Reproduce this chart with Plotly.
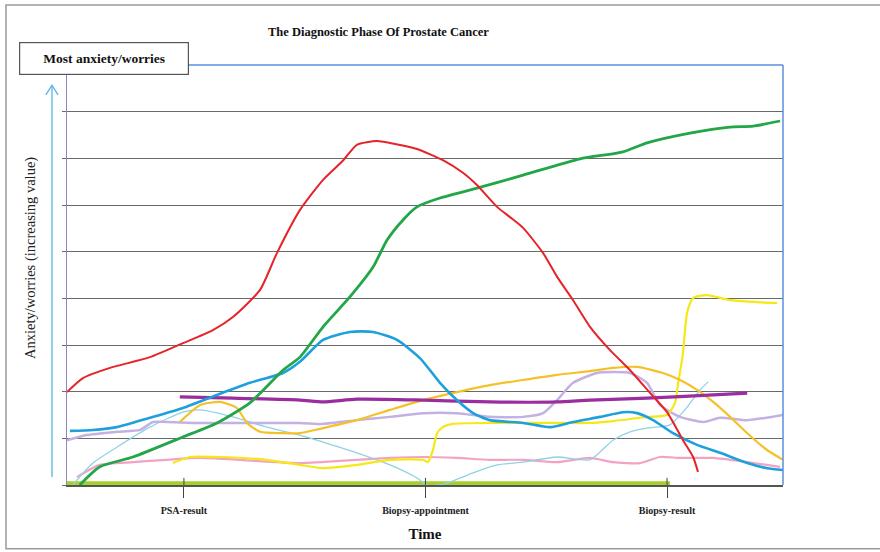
import plotly.graph_objects as go

# ---------------- data (time units: PSA-result=1, Biopsy-appointment=2, Biopsy-result=3) -------------
tick_vals = [1, 2, 3]
tick_labels = ["PSA-result", "Biopsy-appointment", "Biopsy-result"]

red_x = [0.516, 0.582, 0.694, 0.859, 0.996, 1.120, 1.203, 1.315, 1.385, 1.480, 1.576, 1.660,
         1.716, 1.799, 1.853, 1.965, 2.072, 2.155, 2.213, 2.296, 2.350, 2.404, 2.487, 2.545, 2.611,
         2.681, 2.764, 2.847, 2.930, 3.000, 3.066, 3.108, 3.128]
red_y = [1.99, 2.29, 2.51, 2.74, 3.04, 3.32, 3.60, 4.18, 4.97, 5.89, 6.54, 6.96,
         7.29, 7.37, 7.33, 7.20, 6.96, 6.69, 6.43, 5.96, 5.74, 5.51, 4.97, 4.46, 3.96,
         3.39, 2.89, 2.46, 1.97, 1.56, 0.96, 0.60, 0.28]

green_x = [0.569, 0.652, 0.789, 0.996, 1.137, 1.273, 1.410, 1.480, 1.576, 1.687, 1.783, 1.841,
           1.907, 1.965, 2.060, 2.213, 2.404, 2.640, 2.818, 2.917, 3.095, 3.261, 3.356, 3.468]
green_y = [0.00, 0.39, 0.60, 1.03, 1.33, 1.76, 2.46, 2.74, 3.39, 4.03, 4.67, 5.25,
           5.68, 5.96, 6.15, 6.36, 6.64, 6.99, 7.14, 7.33, 7.54, 7.67, 7.69, 7.80]

blue_x = [0.528, 0.623, 0.722, 0.859, 0.996, 1.137, 1.273, 1.410, 1.480, 1.576, 1.687, 1.783,
          1.882, 1.977, 2.060, 2.130, 2.197, 2.267, 2.404, 2.516, 2.611, 2.723, 2.818, 2.876,
          2.942, 3.025, 3.124, 3.220, 3.332, 3.414, 3.480]
blue_y = [1.16, 1.18, 1.24, 1.44, 1.65, 1.93, 2.19, 2.40, 2.64, 3.11, 3.28, 3.28,
          3.11, 2.72, 2.19, 1.82, 1.54, 1.39, 1.33, 1.24, 1.35, 1.46, 1.56, 1.54,
          1.39, 1.11, 0.86, 0.69, 0.47, 0.36, 0.32]

purple_x = [0.983, 1.203, 1.480, 1.576, 1.716, 1.990, 2.267, 2.545, 2.681, 2.917, 3.191, 3.332]
purple_y = [1.89, 1.86, 1.82, 1.78, 1.84, 1.82, 1.78, 1.78, 1.82, 1.86, 1.93, 1.97]

gold_x = [0.983, 1.066, 1.149, 1.219, 1.261, 1.315, 1.410, 1.480, 1.576, 1.716, 1.853, 1.990,
          2.130, 2.267, 2.404, 2.545, 2.681, 2.776, 2.876, 2.983, 3.054, 3.124, 3.191, 3.261,
          3.332, 3.414, 3.480]
gold_y = [1.35, 1.71, 1.78, 1.65, 1.33, 1.14, 1.11, 1.11, 1.22, 1.39, 1.61, 1.82,
          1.99, 2.14, 2.25, 2.36, 2.44, 2.51, 2.53, 2.40, 2.25, 2.04, 1.78, 1.46,
          1.11, 0.75, 0.54]

yellow_x = [0.954, 1.025, 1.137, 1.344, 1.480, 1.576, 1.716, 1.853, 1.990, 2.010, 2.031, 2.048,
            2.072, 2.114, 2.267, 2.545, 2.681, 2.776, 2.917, 3.000, 3.033, 3.046, 3.062, 3.066,
            3.083, 3.108, 3.166, 3.261, 3.373, 3.456]
yellow_y = [0.47, 0.60, 0.60, 0.54, 0.43, 0.36, 0.43, 0.54, 0.54, 0.49, 0.75, 1.11,
            1.24, 1.31, 1.33, 1.33, 1.33, 1.37, 1.46, 1.50, 1.76, 2.19, 2.68, 2.83,
            3.69, 4.01, 4.07, 3.96, 3.92, 3.90]

pink_x = [0.557, 0.652, 0.789, 0.930, 1.066, 1.480, 1.716, 1.853, 1.990, 2.130, 2.267, 2.404,
          2.545, 2.681, 2.776, 2.888, 2.971, 3.054, 3.191, 3.332, 3.468]
pink_y = [0.17, 0.43, 0.49, 0.54, 0.58, 0.47, 0.54, 0.58, 0.60, 0.58, 0.54, 0.54,
          0.49, 0.58, 0.49, 0.47, 0.60, 0.58, 0.58, 0.49, 0.39]

lavender_x = [0.516, 0.598, 0.722, 0.818, 0.872, 0.930, 1.066, 1.480, 1.576, 1.716, 1.853, 1.990,
              2.130, 2.267, 2.404, 2.487, 2.545, 2.611, 2.710, 2.776, 2.847, 2.917, 2.971, 3.054,
              3.149, 3.220, 3.332, 3.480]
lavender_y = [0.96, 1.07, 1.14, 1.18, 1.35, 1.35, 1.33, 1.33, 1.31, 1.39, 1.46, 1.54,
              1.54, 1.46, 1.46, 1.54, 1.82, 2.19, 2.40, 2.42, 2.40, 2.19, 1.71, 1.46,
              1.35, 1.44, 1.39, 1.50]

cyan_x = [0.540, 0.623, 0.722, 0.859, 0.996, 1.066, 1.203, 1.344, 1.480, 1.576, 1.716, 1.853,
          1.965, 2.006, 2.060, 2.101, 2.197, 2.296, 2.404, 2.545, 2.681, 2.776, 2.847, 2.917,
          3.012, 3.083, 3.137, 3.170]
cyan_y = [0.00, 0.47, 0.81, 1.24, 1.56, 1.61, 1.46, 1.24, 1.07, 0.92, 0.69, 0.43,
          0.15, 0.00, 0.00, 0.06, 0.26, 0.43, 0.49, 0.60, 0.54, 0.96, 1.14, 1.22,
          1.29, 1.67, 2.04, 2.21]

lime_x = [0.516, 3.012]
lime_y = [0.03, 0.03]

series = [
    ("lime", lime_x, lime_y, "#a6cf2c", 4.5),
    ("pink", pink_x, pink_y, "#f2a3c4", 2.2),
    ("cyan", cyan_x, cyan_y, "#8fd3e3", 1.3),
    ("lavender", lavender_x, lavender_y, "#c3b1e3", 2.5),
    ("yellow", yellow_x, yellow_y, "#f6e815", 2.2),
    ("gold", gold_x, gold_y, "#f5c128", 2.2),
    ("purple", purple_x, purple_y, "#9a2e9e", 3.2),
    ("blue", blue_x, blue_y, "#1ea0dc", 2.6),
    ("green", green_x, green_y, "#23a647", 2.8),
    ("red", red_x, red_y, "#e5242a", 2.0),
]

SERIF = "Liberation Serif, Times New Roman, serif"

fig = go.Figure()
for name, xs, ys, col, w in series:
    fig.add_trace(go.Scatter(x=xs, y=ys, mode="lines", name=name,
                             line=dict(color=col, width=w, shape="spline", smoothing=0.6),
                             showlegend=False, hoverinfo="skip"))

fig.update_layout(
    width=880, height=552,
    margin=dict(l=67, r=97, t=65, b=67),
    paper_bgcolor="white", plot_bgcolor="white",
    title=dict(text="<b>The Diagnostic Phase Of Prostate Cancer</b>",
               x=0.43, xanchor="center", y=0.942, yanchor="middle",
               font=dict(family=SERIF, size=12.5, color="#111")),
    font=dict(family=SERIF, color="#111"),
)

fig.update_xaxes(range=[0.516, 3.480], showgrid=False, zeroline=False,
                 tickvals=tick_vals,
                 ticktext=["<b>%s</b>" % t for t in tick_labels],
                 tickfont=dict(family=SERIF, size=10, color="#222"),
                 ticks="outside", ticklen=11, tickwidth=1, tickcolor="#444",
                 ticklabelstandoff=4,
                 showline=True, linecolor="#555", linewidth=2,
                 title=dict(text="<b>Time</b>", font=dict(family=SERIF, size=15, color="#111"),
                            standoff=13))

fig.update_yaxes(range=[0, 9], dtick=1, showgrid=True, gridcolor="#6a6a6a", gridwidth=1.4,
                 zeroline=False, showticklabels=False,
                 ticks="outside", ticklen=4, tickcolor="#6a6a6a", tickwidth=1.4,
                 showline=True, linecolor="#8a86c8", linewidth=1.2)

# upward tick marks crossing the time axis
for t in tick_vals:
    fig.add_shape(type="line", xref="x", yref="paper", x0=t, x1=t, y0=0, y1=0.017,
                  line=dict(color="#444", width=1))

# blue border top/right
fig.add_shape(type="line", xref="paper", yref="paper", x0=0, x1=1, y0=1, y1=1,
              line=dict(color="#5a8fdc", width=1.5))
fig.add_shape(type="line", xref="paper", yref="paper", x0=1, x1=1, y0=0, y1=1,
              line=dict(color="#5a8fdc", width=1.5))

# outer frame
fig.add_shape(type="rect", xref="paper", yref="paper", x0=-0.0852, x1=1.144, y0=-0.152, y1=1.143,
              line=dict(color="#9a9a9a", width=1.5), fillcolor="rgba(0,0,0,0)", layer="below")

# light blue arrow on the left
fig.add_shape(type="line", xref="paper", yref="paper", x0=-0.021, x1=-0.021, y0=0.019, y1=0.950,
              line=dict(color="#5ab4e2", width=1.3))
fig.add_shape(type="path", xref="paper", yref="paper",
              path="M -0.0295 0.929 L -0.021 0.952 L -0.0125 0.929",
              line=dict(color="#5ab4e2", width=1.3))

# box "Most anxiety/worries"
fig.add_annotation(xref="paper", yref="paper", x=0.0517, y=1.0143, xanchor="center", yanchor="middle",
                   text="<b>Most anxiety/worries</b>", showarrow=False,
                   font=dict(family=SERIF, size=13.5, color="#111"),
                   width=164, height=27, bgcolor="white", bordercolor="#555", borderwidth=1.2,
                   borderpad=2)

# y-axis title
fig.add_annotation(xref="paper", yref="paper", x=-0.052, y=0.540, xanchor="center", yanchor="middle",
                   text="Anxiety/worries (increasing value)", textangle=-90, showarrow=False,
                   font=dict(family=SERIF, size=14.5, color="#222"))

fig.write_html("out.html", config={"displayModeBar": False},
               post_script="document.body.style.margin='0px';document.body.style.padding='0px';")
